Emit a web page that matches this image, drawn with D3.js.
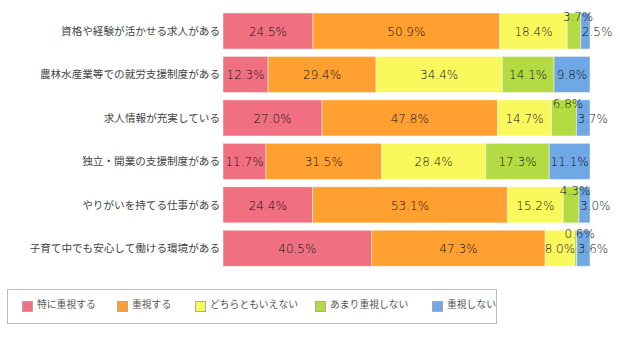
<!DOCTYPE html>
<html><head><meta charset="utf-8">
<script src="https://cdn.jsdelivr.net/npm/d3@7"></script>
<style>
body{margin:0;background:#fff;}
</style></head>
<body><svg id="c" width="620" height="342"></svg>
<script>
const categories = ["資格や経験が活かせる求人がある","農林水産業等での就労支援制度がある","求人情報が充実している","独立・開業の支援制度がある","やりがいを持てる仕事がある","子育て中でも安心して働ける環境がある"];
const seriesNames = ["特に重視する","重視する","どちらともいえない","あまり重視しない","重視しない"];
const colors = ["#F07082","#FFA030","#F9F95E","#B4DB43","#70A7E5"];
const s1 = [24.5,12.3,27.0,11.7,24.4,40.5];
const s2 = [50.9,29.4,47.8,31.5,53.1,47.3];
const s3 = [18.4,34.4,14.7,28.4,15.2,8.0];
const s4 = [3.7,14.1,6.8,17.3,4.3,0.6];
const s5 = [2.5,9.8,3.7,11.1,3.0,3.6];
const seriesVals = [s1,s2,s3,s4,s5];

const JP = "'Noto Sans CJK JP','Noto Sans',sans-serif";
const svg = d3.select("#c");
const x = d3.scaleLinear().domain([0,100]).range([223,590]);
const y = d3.scaleBand().domain(categories).range([9.3,270]).paddingInner(0.17).paddingOuter(0.085);

const rows = categories.map((c,i)=>{let acc=0;return seriesVals.map((s,k)=>{const d={cat:c,k,v:s[i],x0:acc,x1:acc+s[i]};acc+=s[i];return d;});});

const g = svg.append("g");
rows.forEach(r=>{
  g.selectAll(null).data(r).enter().append("rect")
   .attr("x",d=>x(d.x0)).attr("y",d=>y(d.cat))
   .attr("width",d=>x(d.x1)-x(d.x0)).attr("height",y.bandwidth())
   .attr("fill",d=>colors[d.k])
   .attr("stroke","#ffffff").attr("stroke-opacity",0.45).attr("stroke-width",1);
});
rows.forEach(r=>{
  g.selectAll(null).data(r).enter().append("text")
   .style("font-size","12px").style("font-family","'DejaVu Sans',sans-serif").style("font-weight","200")
   .attr("fill","#111")
   .attr("text-anchor",d=>(d.k===4&&d.v<5)?"start":"middle")
   .attr("x",d=>{
     if(d.k===4&&d.v<5) return x(d.x0)+1;
     if(d.k===3&&d.v<7) return (x(d.x0)+x(d.x1))/2+4;
     return (x(d.x0)+x(d.x1))/2;})
   .attr("y",d=>{
     if(d.k===3&&d.v<7) return y(d.cat)+4;
     return y(d.cat)+y.bandwidth()/2+1;})
   .attr("dominant-baseline","central")
   .text(d=>d.v.toFixed(1)+"%");
});
// category axis labels
const yAxis = d3.axisLeft(y).tickSize(0).tickPadding(3);
const ag = svg.append("g").attr("transform","translate(223,0)").call(yAxis);
ag.select(".domain").remove();
ag.selectAll("text").style("font-size","10.6px").style("font-family",JP).attr("fill","#444").attr("dy","0.35em");

// legend
svg.append("rect").attr("x",7.5).attr("y",289.5).attr("width",489).attr("height",34).attr("fill","#fff").attr("stroke","#bbb");
const lx = [22,117,195,315,432];
const lg = svg.selectAll(".leg").data(seriesNames).enter().append("g").attr("transform",(d,i)=>`translate(${lx[i]},0)`);
lg.append("rect").attr("x",0.5).attr("y",301.5).attr("width",10).attr("height",10).attr("fill",(d,i)=>colors[i]).attr("stroke","#aaa");
lg.append("text").attr("x",15).attr("y",303.5).attr("dominant-baseline","central").style("font-size","9.8px").style("font-family",JP).attr("fill","#555").text(d=>d);
</script></body></html>
